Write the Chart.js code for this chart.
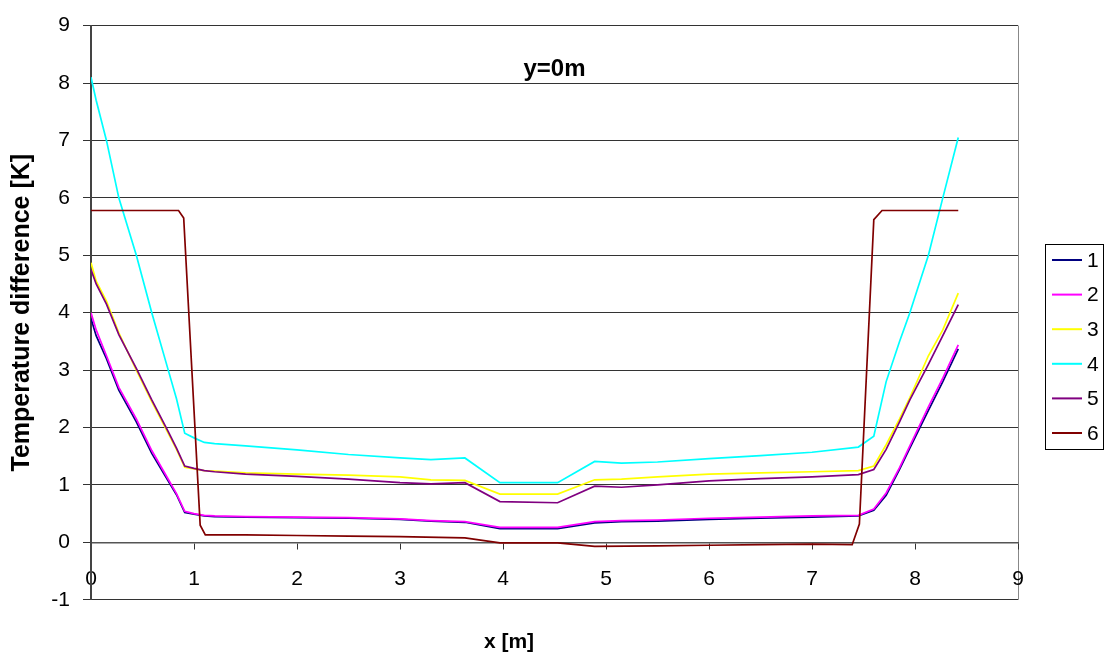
<!DOCTYPE html>
<html>
<head>
  <title>Temperature difference, y=0m</title>
  <script src="https://cdn.jsdelivr.net/npm/chart.js"></script>
  <style>
    body { margin: 0; background: #fff; }
    canvas { display: block; }
  </style>
</head>
<body>
  <canvas id="chart" width="1106" height="657"></canvas>

  <script>
    // x positions [m] shared by series 1-5
    const xMain = [0, 0.05, 0.15, 0.27, 0.44, 0.59, 0.75, 0.83, 0.91, 1.0, 1.1, 1.2, 1.5, 2.0, 2.5, 3.0, 3.3, 3.63, 3.97, 4.53, 4.89, 5.15, 5.5, 6.0, 6.5, 7.0, 7.45, 7.6, 7.72, 7.85, 7.95, 8.13, 8.27, 8.42];
    const s1 = [3.9, 3.6, 3.2, 2.65, 2.1, 1.55, 1.07, 0.83, 0.52, 0.49, 0.46, 0.45, 0.44, 0.43, 0.42, 0.4, 0.37, 0.35, 0.24, 0.24, 0.34, 0.36, 0.37, 0.4, 0.42, 0.44, 0.46, 0.56, 0.82, 1.27, 1.64, 2.3, 2.8, 3.37];
    const s2 = [4.0, 3.7, 3.25, 2.7, 2.15, 1.6, 1.1, 0.85, 0.54, 0.5, 0.47, 0.46, 0.45, 0.44, 0.43, 0.41, 0.38, 0.36, 0.26, 0.26, 0.36, 0.38, 0.39, 0.42, 0.44, 0.46, 0.47, 0.58, 0.86, 1.3, 1.68, 2.36, 2.86, 3.44];
    const s3 = [4.87, 4.55, 4.2, 3.65, 3.0, 2.45, 1.9, 1.62, 1.31, 1.28, 1.25, 1.24, 1.21, 1.19, 1.17, 1.14, 1.09, 1.08, 0.84, 0.84, 1.09, 1.10, 1.14, 1.19, 1.21, 1.23, 1.25, 1.33, 1.7, 2.15, 2.52, 3.25, 3.7, 4.34];
    const s4 = [8.1, 7.7, 7.0, 6.0, 5.0, 4.0, 3.0, 2.5, 1.9, 1.82, 1.74, 1.72, 1.68, 1.61, 1.53, 1.47, 1.44, 1.47, 1.04, 1.04, 1.41, 1.38, 1.40, 1.46, 1.51, 1.57, 1.66, 1.85, 2.8, 3.5, 4.0, 5.0, 6.0, 7.05];
    const s5 = [4.75, 4.5, 4.15, 3.62, 3.03, 2.48, 1.93, 1.64, 1.33, 1.29, 1.25, 1.23, 1.19, 1.15, 1.10, 1.04, 1.02, 1.04, 0.71, 0.69, 0.98, 0.96, 1.0, 1.07, 1.11, 1.14, 1.18, 1.27, 1.62, 2.1, 2.48, 3.1, 3.6, 4.14];
    // series 6 has its own x positions (steep steps near 1 m and 7.5 m)
    const x6 = [0, 0.85, 0.9, 1.06, 1.11, 1.5, 2.0, 2.5, 3.0, 3.63, 3.97, 4.53, 4.89, 5.5, 6.0, 6.5, 7.0, 7.39, 7.46, 7.6, 7.68, 8.42];
    const s6 = [5.78, 5.78, 5.65, 0.3, 0.13, 0.13, 0.12, 0.11, 0.1, 0.08, -0.01, -0.01, -0.07, -0.06, -0.05, -0.04, -0.03, -0.04, 0.32, 5.62, 5.78, 5.78];

    const seriesNames = ['1', '2', '3', '4', '5', '6'];
    const seriesX = [xMain, xMain, xMain, xMain, xMain, x6];
    const seriesY = [s1, s2, s3, s4, s5, s6];
    const seriesColors = ['#000080', '#ff00ff', '#ffff00', '#00ffff', '#800080', '#800000'];

    const FONT = '"Liberation Sans", Arial, sans-serif';

    // title inside the plot and the boxed legend on the right
    const extras = {
      id: 'extras',
      afterDraw(chart) {
        const ctx = chart.ctx;
        const area = chart.chartArea;
        ctx.save();
        ctx.fillStyle = '#000';
        ctx.font = 'bold 24px ' + FONT;
        ctx.textAlign = 'center';
        ctx.textBaseline = 'middle';
        ctx.fillText('y=0m', (area.left + area.right) / 2, area.top + 44);

        // legend
        const lx = 1045, ly = 244, lw = 58, lh = 205, step = 34.6;
        ctx.strokeStyle = '#000';
        ctx.lineWidth = 1;
        ctx.strokeRect(lx + 0.5, ly + 0.5, lw, lh);
        ctx.font = '21px ' + FONT;
        ctx.textAlign = 'left';
        chart.data.datasets.forEach((ds, i) => {
          const y = ly + 16 + i * step;
          ctx.strokeStyle = ds.borderColor;
          ctx.lineWidth = 2;
          ctx.beginPath();
          ctx.moveTo(lx + 7, y);
          ctx.lineTo(lx + 37, y);
          ctx.stroke();
          ctx.fillStyle = '#000';
          ctx.fillText(ds.label, lx + 42, y + 1);
        });
        ctx.restore();
      }
    };

    new Chart(document.getElementById('chart'), {
      type: 'line',
      data: {
        datasets: seriesNames.map((name, i) => ({
          label: name,
          data: seriesX[i].map((x, j) => ({ x: x, y: seriesY[i][j] })),
          borderColor: seriesColors[i],
          backgroundColor: seriesColors[i],
          borderWidth: 1.7,
          pointRadius: 0,
          tension: 0,
          order: seriesNames.length - i
        }))
      },
      options: {
        responsive: false,
        animation: false,
        layout: { padding: { left: 0, top: 21, right: 88, bottom: 0 } },
        plugins: {
          legend: { display: false },
          tooltip: { enabled: false },
          title: {
            display: true,
            position: 'bottom',
            text: 'x [m]',
            color: '#000',
            font: { family: FONT, size: 21, weight: 'bold' },
            padding: { top: 30, bottom: 2 }
          }
        },
        scales: {
          x: {
            type: 'linear',
            min: 0,
            max: 9,
            position: { y: 0 },
            ticks: {
              stepSize: 1,
              autoSkip: false,
              maxRotation: 0,
              padding: 18,
              color: '#000',
              font: { family: FONT, size: 21 }
            },
            grid: {
              drawOnChartArea: true,
              color: c => (c.tick && c.tick.value === 9) ? '#888' : 'rgba(0,0,0,0)',
              tickColor: '#333',
              tickLength: 6
            },
            border: { display: true, color: '#555', width: 1.5 }
          },
          y: {
            min: -1,
            max: 9,
            afterFit(scale) { scale.width = 91; },
            ticks: {
              stepSize: 1,
              padding: 13,
              color: '#000',
              font: { family: FONT, size: 21 }
            },
            grid: { color: '#333', tickColor: '#333', tickLength: 8 },
            border: { display: true, color: '#444', width: 2 },
            title: {
              display: true,
              text: 'Temperature difference [K]',
              color: '#000',
              font: { family: FONT, size: 25, weight: 'bold' },
              padding: { top: 7, bottom: 0 }
            }
          }
        }
      },
      plugins: [extras]
    });
  </script>
</body>
</html>
